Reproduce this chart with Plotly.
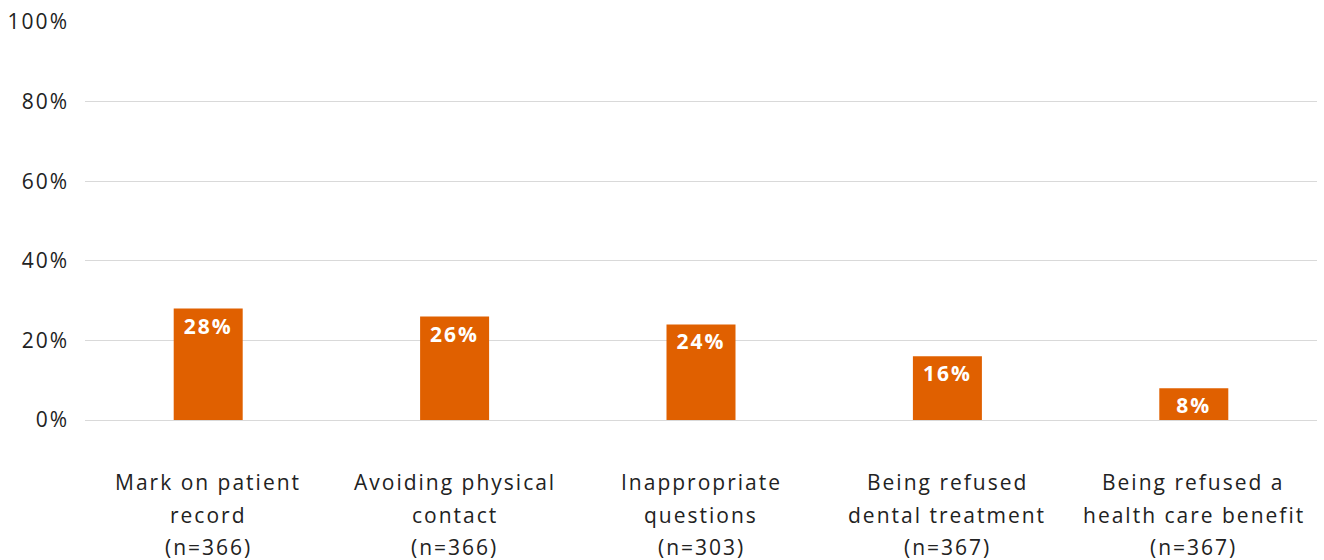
import plotly.graph_objects as go

# Share of respondents reporting each kind of experience
category_lines = [
    ["Mark on patient", "record", "(n=366)"],
    ["Avoiding physical", "contact", "(n=366)"],
    ["Inappropriate", "questions", "(n=303)"],
    ["Being refused", "dental treatment", "(n=367)"],
    ["Being refused a", "health care benefit", "(n=367)"],
]
values = [28, 26, 24, 16, 8]
y_ticks = [0, 20, 40, 60, 80, 100]

BAR_COLOR = "#E06000"
TEXT_COLOR = "#222222"
FONT = "Open Sans"
FONT_SIZE = 21
LINE_STEP = 32.5  # vertical distance between category label lines

x_pos = list(range(len(values)))

fig = go.Figure(
    go.Bar(
        x=x_pos,
        y=values,
        marker=dict(color=BAR_COLOR, line=dict(width=0)),
        text=[f"{v}%" for v in values],
        textposition="inside",
        insidetextanchor="end",
        constraintext="none",
        textfont=dict(family=FONT, size=FONT_SIZE, color="white", weight="bold"),
        hoverinfo="skip",
    )
)

# Category labels, one annotation per line for wider line spacing
annotations = []
for i, lines in enumerate(category_lines):
    for j, line in enumerate(lines):
        annotations.append(
            dict(
                x=i,
                xref="x",
                y=0,
                yref="paper",
                yanchor="top",
                yshift=-(46 + j * LINE_STEP),
                text=line,
                showarrow=False,
                font=dict(family=FONT, size=FONT_SIZE, color=TEXT_COLOR),
            )
        )

fig.update_layout(
    width=1324,
    height=560,
    margin=dict(l=85, r=7, t=20, b=140),
    paper_bgcolor="white",
    plot_bgcolor="white",
    bargap=0.72,
    showlegend=False,
    font=dict(family=FONT, size=FONT_SIZE, color=TEXT_COLOR),
    annotations=annotations,
)

fig.update_xaxes(
    range=[-0.5, len(values) - 0.5],
    showticklabels=False,
    showgrid=False,
    showline=False,
    zeroline=False,
    ticks="",
)

fig.update_yaxes(
    range=[0, 100],
    tickmode="array",
    tickvals=y_ticks,
    ticktext=[f"{t}%" for t in y_ticks],
    showgrid=True,
    gridcolor="#D9D9D9",
    gridwidth=1,
    zeroline=True,
    zerolinecolor="#D9D9D9",
    zerolinewidth=1,
    showline=False,
    ticks="",
    ticklabelstandoff=15,
    tickfont=dict(family=FONT, size=FONT_SIZE, color=TEXT_COLOR),
)

# Slightly open letter spacing for all chart text
spacing_js = (
    "document.querySelectorAll('.ytick text, .bartext, .annotation-text')"
    ".forEach(function(e){e.style.letterSpacing='2px';});"
)

fig.write_html("out.html", post_script=spacing_js)
